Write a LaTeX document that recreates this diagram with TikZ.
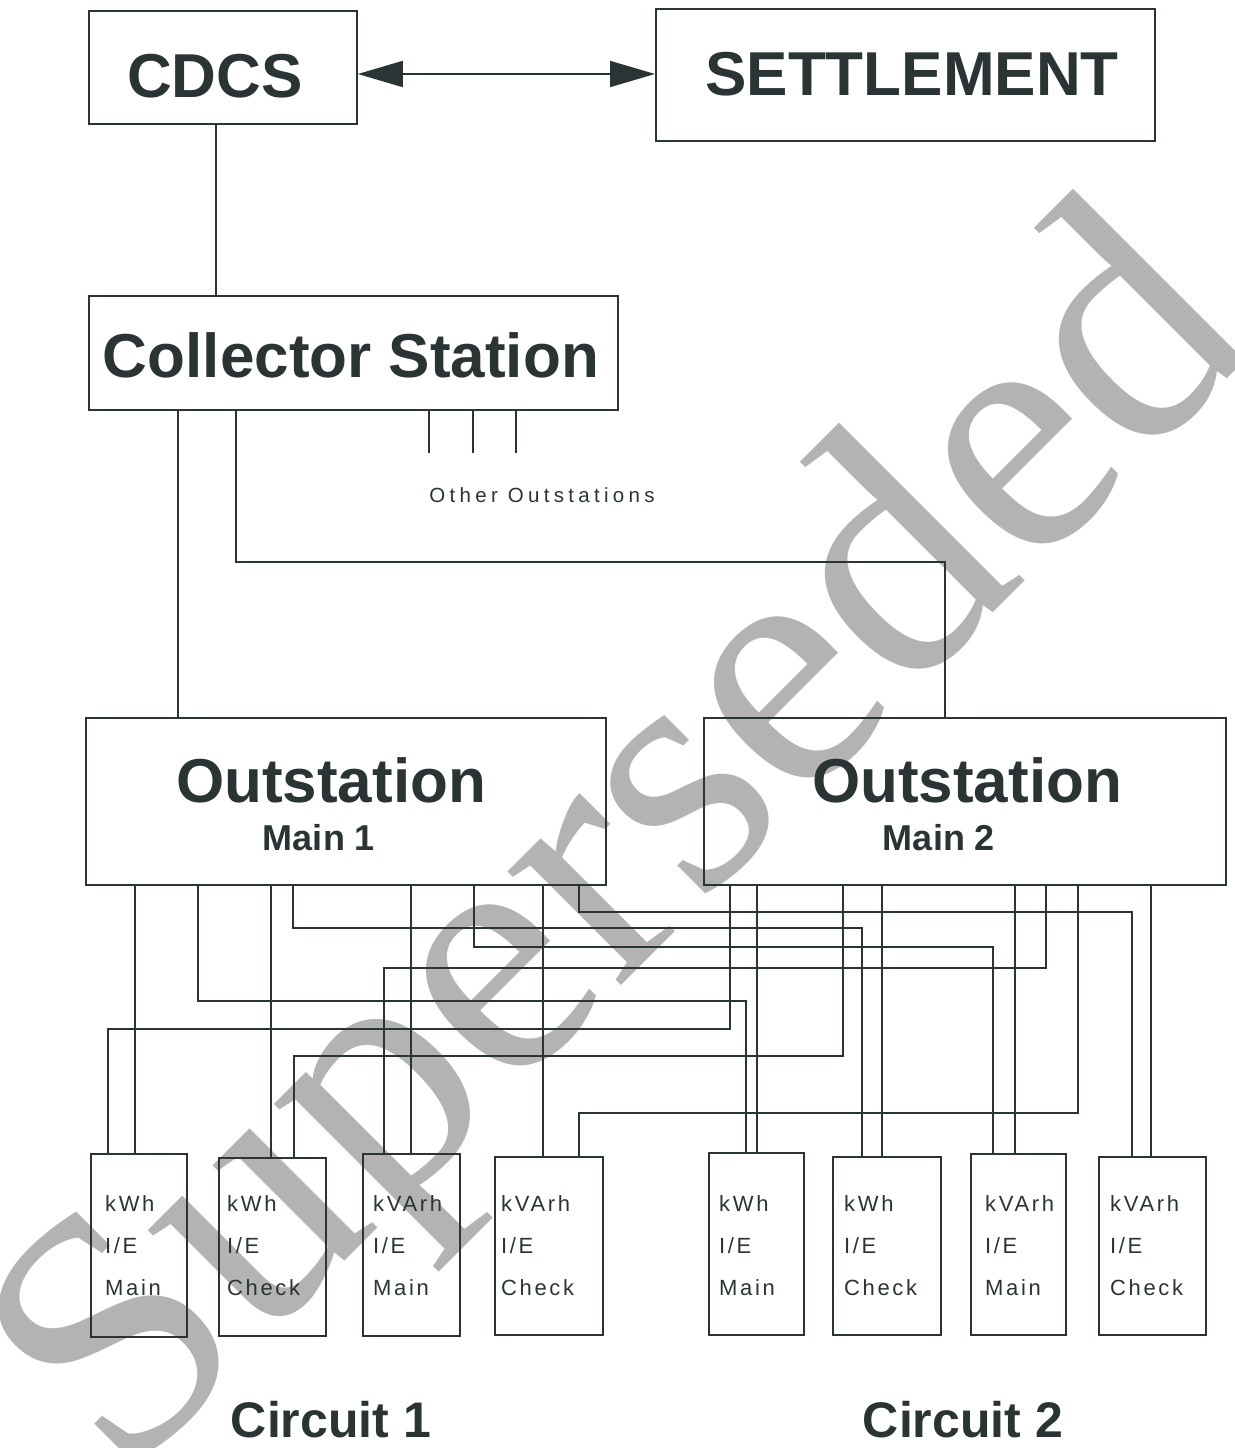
\documentclass[tikz,border=0pt]{standalone}
\usepackage{fontspec}
\setmainfont{Liberation Sans}
\newfontfamily\wmfont{Liberation Serif}
\newfontfamily\metfont{Liberation Sans}[LetterSpace=12]
\newfontfamily\othfont{Liberation Sans}[LetterSpace=21]
\usetikzlibrary{arrows.meta}
\definecolor{ink}{RGB}{42,52,52}
\definecolor{wm}{RGB}{179,179,179}
\newcommand\metlabel[5]{%
  \node[met] (#1a) at (#2,1211) {#3};
  \node[met] (#1b) at (#2,1253) {#4};
  \node[met] (#1c) at (#2,1295) {#5};}
\begin{document}
\begin{tikzpicture}[x=1pt,y=-1pt,
  box/.style={draw=ink, line width=1.8pt, inner sep=0pt, anchor=north west},
  wire/.style={draw=ink, line width=1.8pt},
  big/.style={text=ink, inner sep=0pt, anchor=base, font=\bfseries\fontsize{62}{62}\selectfont},
  mid/.style={text=ink, inner sep=0pt, anchor=base, font=\bfseries\fontsize{36}{36}\selectfont},
  circ/.style={text=ink, inner sep=0pt, anchor=base, font=\bfseries\fontsize{50}{50}\selectfont},
  met/.style={text=ink, inner sep=0pt, anchor=base west, font=\metfont\fontsize{22}{22}\selectfont},
  oth/.style={text=ink, inner sep=0pt, anchor=base, font=\othfont\fontsize{20.5}{20.5}\selectfont},
  wmark/.style={text=wm, inner sep=0pt, rotate=45, font=\wmfont\fontsize{350}{350}\selectfont}]
\useasboundingbox (0,0) rectangle (1234,1448);
% watermark (underneath)
\node[wmark] (wmk) at (632,855) {Superseded};
% boxes
\node[box, minimum width=268pt, minimum height=113pt] (cdcs) at (88,10) {};
\node[box, minimum width=499pt, minimum height=132pt] (settle) at (655,8) {};
\node[box, minimum width=529pt, minimum height=114pt] (coll) at (88,295) {};
\node[box, minimum width=520pt, minimum height=167pt] (main1) at (85,717) {};
\node[box, minimum width=522pt, minimum height=167pt] (main2) at (703,717) {};
\node[box, minimum width=96pt, minimum height=183pt] (m1) at (90,1153) {};
\node[box, minimum width=107pt, minimum height=178pt] (m2) at (218,1157) {};
\node[box, minimum width=97pt, minimum height=182pt] (m3) at (362,1153) {};
\node[box, minimum width=108pt, minimum height=178pt] (m4) at (494,1156) {};
\node[box, minimum width=95pt, minimum height=182pt] (m5) at (708,1152) {};
\node[box, minimum width=108pt, minimum height=178pt] (m6) at (832,1156) {};
\node[box, minimum width=95pt, minimum height=181pt] (m7) at (970,1153) {};
\node[box, minimum width=107pt, minimum height=178pt] (m8) at (1098,1156) {};
% titles
\node[big] (tcdcs) at (215,97) {CDCS};
\node[big] (tsettle) at (912,95) {SETTLEMENT};
\node[big] (tcoll) at (351,377) {Collector Station};
\node[big] (tout1) at (331,802) {Outstation};
\node[mid] (tmain1) at (319,850) {Main 1};
\node[big] (tout2) at (967,802) {Outstation};
\node[mid] (tmain2) at (939,850) {Main 2};
\node[oth] (toth) at (542,502) {Other Outstations};
\node[circ] (tc1) at (331,1437) {Circuit 1};
\node[circ] (tc2) at (963,1437) {Circuit 2};
% meter labels
\metlabel{l1}{105}{kWh}{I/E}{Main}
\metlabel{l2}{227}{kWh}{I/E}{Check}
\metlabel{l3}{373}{kVArh}{I/E}{Main}
\metlabel{l4}{501}{kVArh}{I/E}{Check}
\metlabel{l5}{719}{kWh}{I/E}{Main}
\metlabel{l6}{844}{kWh}{I/E}{Check}
\metlabel{l7}{985}{kVArh}{I/E}{Main}
\metlabel{l8}{1110}{kVArh}{I/E}{Check}
% top connections
\draw[wire, {Triangle[length=45pt,width=26pt]}-{Triangle[length=45pt,width=26pt]}]
  (cdcs.east |- 0,74) -- (settle.west |- 0,74);
\draw[wire] (cdcs.south -| 216,0) -- (coll.north -| 216,0);
\draw[wire] (coll.south -| 178,0) -- (main1.north -| 178,0);
\draw[wire] (coll.south -| 236,0) |- (945,562) -- (main2.north -| 945,0);
\coordinate (o1) at (429,453);
\coordinate (o2) at (473,453);
\coordinate (o3) at (516,453);
\draw[wire] (coll.south -| o1) -- (o1);
\draw[wire] (coll.south -| o2) -- (o2);
\draw[wire] (coll.south -| o3) -- (o3);
% direct wires
\draw[wire] (main1.south -| 135,0) -- (m1.north -| 135,0);
\draw[wire] (main1.south -| 271,0) -- (m2.north -| 271,0);
\draw[wire] (main1.south -| 411,0) -- (m3.north -| 411,0);
\draw[wire] (main1.south -| 543,0) -- (m4.north -| 543,0);
\draw[wire] (main2.south -| 757,0) -- (m5.north -| 757,0);
\draw[wire] (main2.south -| 882,0) -- (m6.north -| 882,0);
\draw[wire] (main2.south -| 1015,0) -- (m7.north -| 1015,0);
\draw[wire] (main2.south -| 1151,0) -- (m8.north -| 1151,0);
% crossed wires: Main 2 -> circuit 1
\draw[wire] (main2.south -| 730,0) |- (108,1029) -- (m1.north -| 108,0);
\draw[wire] (main2.south -| 843,0) |- (294,1056) -- (m2.north -| 294,0);
\draw[wire] (main2.south -| 1046,0) |- (384,968) -- (m3.north -| 384,0);
\draw[wire] (main2.south -| 1078,0) |- (579,1113) -- (m4.north -| 579,0);
% crossed wires: Main 1 -> circuit 2
\draw[wire] (main1.south -| 198,0) |- (746,1001) -- (m5.north -| 746,0);
\draw[wire] (main1.south -| 293,0) |- (862,928) -- (m6.north -| 862,0);
\draw[wire] (main1.south -| 474,0) |- (993,947) -- (m7.north -| 993,0);
\draw[wire] (main1.south -| 579,0) |- (1132,912) -- (m8.north -| 1132,0);
\end{tikzpicture}
\end{document}
